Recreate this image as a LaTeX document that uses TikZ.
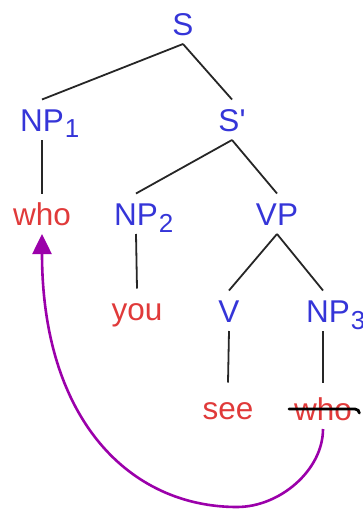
\documentclass[tikz,border=0pt]{standalone}
\usepackage{fontspec}
\setmainfont{Liberation Sans}
\usetikzlibrary{arrows.meta}
\definecolor{catblue}{HTML}{3535D8}
\definecolor{wordred}{HTML}{E03A3A}
\definecolor{movepurple}{HTML}{9B00AA}
% category label with a lowered index
\newcommand{\subd}[3]{#1\rlap{\raisebox{-#3pt}{\fontsize{26}{30}\selectfont\kern1pt #2}}}
\begin{document}
\begin{tikzpicture}[x=1pt,y=-1pt,
  lbl/.style={anchor=base,inner sep=0pt,outer xsep=0pt,outer ysep=9pt,
    text height=22.5pt,text depth=0pt,font=\fontsize{31.5}{36}\selectfont},
  cat/.style={lbl,text=catblue},
  word/.style={lbl,text=wordred},
  branch/.style={draw=black!85,line width=1.8pt},
  move/.style={draw=movepurple,line width=2.6pt,
    -{Triangle[length=20pt,width=19pt]}}]
\useasboundingbox (0,0) rectangle (362,509);
% categories
\node[cat] (S)   at (183,35)  {S};
\node[cat] (Sp)  at (232,131) {S\textquotesingle};
\node[cat] (NP1) at (42,131)  {\subd{NP}{1}{6}};
\node[cat] (NP2) at (136,225) {\subd{NP}{2}{7}};
\node[cat] (VP)  at (277,225) {VP};
\node[cat] (V)   at (229,322) {V};
\node[cat] (NP3) at (328,322) {\subd{NP}{3}{7}};
% words
\node[word] (who1) at (42,225)  {who};
\node[word] (you)  at (137,320) {you};
\node[word] (see)  at (228,419) {see};
\node[word] (who2) at (323,420) {who};
% branches
\path[branch] (S.south) -- (NP1.north);
\path[branch] (S.south) -- (Sp.north);
\path[branch] (NP1.south) -- (who1.north);
\path[branch] (Sp.south) -- (NP2.north);
\path[branch] (Sp.south) -- (VP.north);
\path[branch] (NP2.south) -- (you.north);
\path[branch] (VP.south) -- (NP3.north -| who2.north);
\path[branch] (VP.south) -- (V.north);
\path[branch] (V.south) -- ([yshift=5pt]see.north);
\path[branch] (NP3.south -| who2.north) -- ([yshift=5.5pt]who2.north);
% strike-through of the moved word
\draw[line width=2.8pt,line cap=round]
  ([xshift=-5pt,yshift=11pt]who2.base west) -- ([xshift=3pt,yshift=11pt]who2.base east)
  .. controls +(2.5,0) and +(0,-2) .. +(4.5,4);
% movement arrow
\path[move] (who2.south) .. controls (323,470) and (280,507) .. (237,507)
  .. controls (130,507) and (42,420) .. (who1.south);
\end{tikzpicture}
\end{document}
